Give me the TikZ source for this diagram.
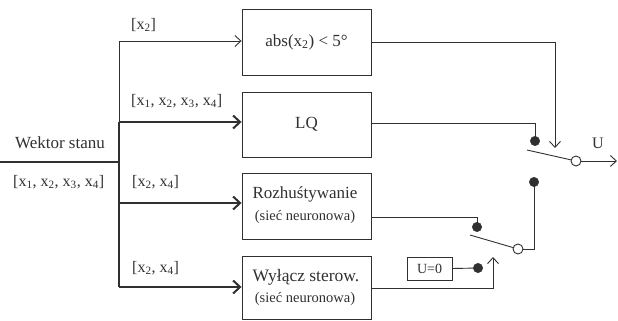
\documentclass[tikz,border=0pt]{standalone}
\usepackage{fontspec}
\setmainfont{Liberation Serif}
\usetikzlibrary{arrows.meta}
\definecolor{ink}{HTML}{303030}
\begin{document}
\begin{tikzpicture}[x=1pt,y=-1pt,
  every node/.style={text=ink},
  thinln/.style={draw=ink,line width=0.9pt},
  thickln/.style={draw=ink,line width=2pt},
  thinarr/.style={thinln,-{Straight Barb[length=6pt,width=11pt,line width=0.9pt]}},
  thickarr/.style={thickln,-{Straight Barb[length=7pt,width=13pt,line width=2pt]}},
  blk/.style={draw=ink,line width=0.9pt,minimum width=129pt,inner sep=0pt,align=center,font=\fontsize{17}{20}\selectfont},
  lbl/.style={anchor=west,inner sep=0pt,font=\fontsize{16}{18}\selectfont},
  small/.style={font=\fontsize{14.5}{17}\selectfont},
  fdot/.style={circle,fill=ink,draw=ink,minimum size=9.5pt,inner sep=0pt},
  odot/.style={circle,fill=white,draw=ink,line width=0.9pt,minimum size=10pt,inner sep=0pt}]
\useasboundingbox (0,0) rectangle (618,321);
% blocks
\node[blk,minimum height=66pt] (b1) at (306.5,42) {abs(x\textsubscript{2}) < 5°};
\node[blk,minimum height=65pt] (b2) at (306.5,124.5) {LQ};
\node[blk,minimum height=66pt] (b3) at (306.5,206) {};
\node[blk,minimum height=63pt] (b4) at (306.5,287.5) {};
\node[font=\fontsize{17}{20}\selectfont,inner sep=0pt] (t3a) at (305,194) {Rozhuśtywanie};
\node[small,inner sep=0pt] (t3b) at (305,217) {(sieć neuronowa)};
\node[font=\fontsize{17.5}{20}\selectfont,inner sep=0pt] (t4a) at (306,277) {Wyłącz sterow.};
\node[small,inner sep=0pt] (t4b) at (305,299) {(sieć neuronowa)};
% input
\node[font=\fontsize{17}{20}\selectfont,inner sep=0pt] (win) at (60,143) {Wektor stanu};
\node[lbl] (vin) at (13,182) {[x\textsubscript{1}, x\textsubscript{2}, x\textsubscript{3}, x\textsubscript{4}]};
\coordinate (in0) at (0,162);
\coordinate (tTop) at (119,41);
\coordinate (tLQ) at (119,122);
\coordinate (tR) at (119,203);
\coordinate (tW) at (119,287);
\coordinate (tIn) at (119,162);
\draw[thickln] (in0) -- (tIn);
\draw[thinln] (tTop) -- (tLQ);
\draw[thickln] (tLQ) -- (tW);
\draw[thinarr] (tTop) -- (tTop -| b1.west);
\draw[thickarr] (tLQ) -- (tLQ -| b2.west);
\draw[thickarr] (tR) -- (tR -| b3.west);
\draw[thickarr] (tW) -- (tW -| b4.west);
% branch labels
\node[lbl] (l1) at (131,25) {[x\textsubscript{2}]};
\node[lbl] (l2) at (131,101) {[x\textsubscript{1}, x\textsubscript{2}, x\textsubscript{3}, x\textsubscript{4}]};
\node[lbl] (l3) at (132,182) {[x\textsubscript{2}, x\textsubscript{4}]};
\node[lbl] (l4) at (132,268) {[x\textsubscript{2}, x\textsubscript{4}]};
% switch elements
\node[fdot] (dLQ) at (535,141) {};
\node[fdot] (dLow) at (534,182) {};
\node[odot] (oU) at (576,161) {};
\coordinate (lev1) at (527,150);
\node[fdot] (dR) at (477,227) {};
\node[fdot] (dZ) at (478,268) {};
\node[odot] (oL) at (518,249) {};
\coordinate (lev2) at (470,235);
\node[draw=ink,line width=0.9pt,minimum width=45pt,minimum height=23pt,inner sep=0pt,font=\fontsize{14}{16}\selectfont] (u0) at (429.5,268.5) {U=0};
\coordinate (uEnd) at (617,161);
\node[font=\fontsize{16}{18}\selectfont,inner sep=0pt] (Ulbl) at (598,143) {U};
% connections
\draw[thinarr] (b1.east |- 0,42) -- (555,42) -- (555,148);
\draw[thinln] (b2.east |- 0,123) -| (dLQ.center);
\draw[thinln] (lev1) -- (oU);
\draw[thinarr] (oU) -- (uEnd);
\draw[thinln] (dLow.center) |- (oL);
\draw[thinln] (b3.east |- 0,217) -| (dR.center);
\draw[thinln] (lev2) -- (oL);
\draw[thinln] (u0.east) -- (dZ);
\draw[thinarr] (b4.east |- 0,288) -| (493,257);
\end{tikzpicture}
\end{document}
